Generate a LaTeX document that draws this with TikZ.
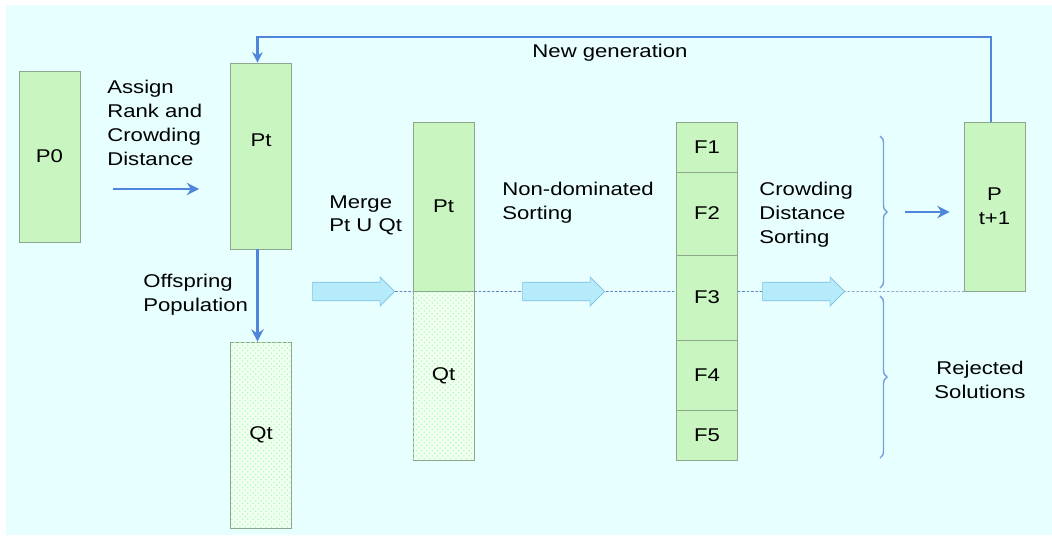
\documentclass[tikz,border=0pt]{standalone}
\usepackage{fontspec}
\setmainfont[FakeStretch=1.2]{Liberation Sans}
\usetikzlibrary{positioning, arrows.meta, shapes.arrows, patterns, decorations.pathreplacing, calc, backgrounds}
\definecolor{bgCyan}{HTML}{E8FFFF}
\definecolor{boxGreen}{HTML}{C9F5C0}
\definecolor{boxLine}{HTML}{8CA88C}
\definecolor{arrBlue}{HTML}{4F86DB}
\definecolor{fatFill}{HTML}{B5EBFA}
\definecolor{fatLine}{HTML}{7FBFE0}
\tikzset{
  popbox/.style={
    draw=boxLine, fill=boxGreen, rectangle, align=center,
    minimum width=1.22cm, inner sep=0pt,
    font=\fontsize{10.5}{13.6}\selectfont
  },
  popboxHatch/.style={
    popbox, fill=green!5,
    postaction={pattern=crosshatch dots, pattern color=green!30}
  },
  % Fat transfer arrows
  fatarrow/.style={
    single arrow, draw=fatLine, fill=fatFill,
    minimum height=1.64cm, minimum width=0.58cm,
    single arrow head extend=0.1cm, inner sep=0.17cm
  },
  % Blue flow arrows
  flow/.style={
    draw=arrBlue, line width=1.3pt, -{Stealth[length=7pt,width=7pt]}
  },
  cutline/.style={
    draw=arrBlue!70!gray, dash pattern=on 1.5pt off 1pt, line width=0.4pt
  },
  brc/.style={
    draw=arrBlue!80, line width=0.8pt,
    decorate, decoration={brace, amplitude=0.14cm}
  },
  txt/.style={
    align=left, inner sep=0pt, anchor=north west,
    font=\fontsize{10.5}{13.6}\selectfont
  },
}

\begin{document}
\begin{tikzpicture}[x=0.02cm, y=-0.02cm]

  %% ── Background ──
  \useasboundingbox (0,0) rectangle (1052,535);
  \begin{scope}[on background layer]
    \fill[white] (0,0) rectangle (1052,535);
    \fill[bgCyan] (6,5) rectangle (1052,535);
  \end{scope}

  %% ── Populations ──
  \node[popbox, minimum height=3.42cm] (P0) at (49.5,156.5) {P0};
  \node[popbox, minimum height=3.72cm] (Pt) at (261,156) {\raisebox{0.19cm}[0pt][0pt]{Pt}};
  \node[popboxHatch, minimum height=3.72cm] (Qt) at (261,435) {Qt};

  %% ── Merged population ──
  \node[popbox, minimum height=3.38cm] (mPt) at (443.5,206.5) {Pt};
  \node[popboxHatch, minimum height=3.38cm] (mQt) at (443.5,375.5) {Qt};

  %% ── Fronts ──
  \node[popbox, minimum height=1.0cm]  (F1) at (707,147)   {F1};
  \node[popbox, minimum height=1.66cm] (F2) at (707,213.5) {F2};
  \node[popbox, minimum height=1.7cm]  (F3) at (707,297.5) {F3};
  \node[popbox, minimum height=1.4cm]  (F4) at (707,375)   {F4};
  \node[popbox, minimum height=1.0cm]  (F5) at (707,435)   {F5};

  %% ── Next population ──
  \node[popbox, minimum height=3.38cm] (Pnext) at (994.5,206.5) {P\\t+1};

  %% ── Fat arrows ──
  \node[fatarrow] (mergeArr) at (349,291.5) {};
  \node[fatarrow] (sortArr)  at (559,291.5) {};
  \node[fatarrow] (crowdArr) at (799,291.5) {};

  %% ── Cut line ──
  \begin{scope}[on background layer]
    \draw[cutline] (mergeArr.east) -- (Pnext.south east);
  \end{scope}

  %% ── Labels ──
  \node[txt] (assignL)  at (107,80)  {Assign\\Rank and\\Crowding\\Distance};
  \node[txt] (offL)     at (143,274) {Offspring\\Population};
  \node[txt] (mergeL)   at (329,195) {Merge\\Pt U Qt};
  \node[txt] (ndsL)     at (502,182) {Non-dominated\\Sorting};
  \node[txt] (crowdL)   at (759,182) {Crowding\\Distance\\Sorting};
  \node[txt, align=center, anchor=center] (rejL) at (980,380) {Rejected\\Solutions};
  \node[txt, anchor=center] (newL) at (610,53) {New generation};

  %% ── Braces ──
  \coordinate (keepTop) at (880,136);
  \coordinate (keepBot) at (880,288);
  \coordinate (rejTop)  at (880,296);
  \coordinate (rejBot)  at (880,458);
  \coordinate (keepTip) at (887,212);
  \draw[brc] (keepTop) -- (keepBot);
  \draw[brc] (rejTop) -- (rejBot);

  %% ── Flow arrows ──
  \draw[flow, shorten <=0.66cm, shorten >=0.62cm]
    ([yshift=-0.65cm]P0.east) -- ([yshift=-0.65cm]P0.east -| Pt.west);
  \draw[flow] ([xshift=-2pt]Pt.south) -- ([xshift=-2pt]Qt.north);
  \draw[flow, shorten <=0.36cm, shorten >=0.28cm] (keepTip) -- (keepTip -| Pnext.west);
  \draw[flow, -{Stealth[length=6pt,width=6pt]}]
    ([xshift=-2pt]Pnext.north) |- ([xshift=-2pt, yshift=0.52cm]Pt.north) -- ([xshift=-2pt]Pt.north);

\end{tikzpicture}
\end{document}
